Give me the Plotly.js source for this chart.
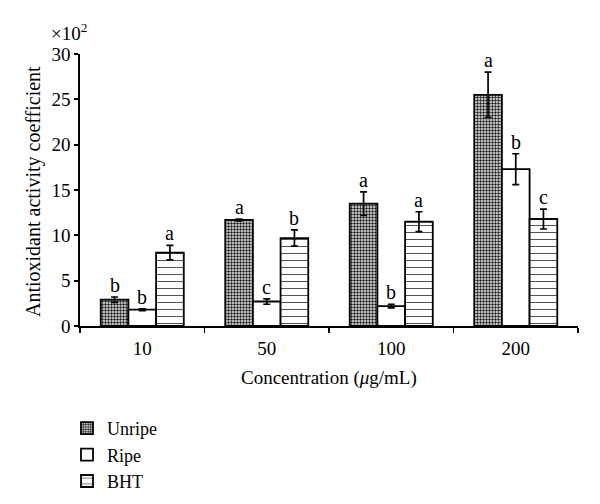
<!DOCTYPE html>
<html>
<head>
<meta charset="utf-8">
<script src="https://cdn.plot.ly/plotly-3.0.1.min.js"></script>
<style>html,body{margin:0;padding:0;background:#fff;}#chart{width:600px;height:504px;}</style>
</head>
<body>
<div id="chart"></div>
<script>
const categories = ["10", "50", "100", "200"];
const seriesNames = ["Unripe", "Ripe", "BHT"];
const unripe = [2.9, 11.7, 13.5, 25.5];
const unripeErr = [0.3, 0.1, 1.3, 2.5];
const ripe = [1.8, 2.7, 2.2, 17.3];
const ripeErr = [0.1, 0.3, 0.2, 1.7];
const bht = [8.1, 9.7, 11.5, 11.8];
const bhtErr = [0.8, 0.9, 1.1, 1.1];
const unripeLetters = ["b", "a", "a", "a"];
const ripeLetters = ["b", "c", "b", "b"];
const bhtLetters = ["a", "b", "a", "c"];
const xTitle = "Concentration (<i>μ</i>g/mL)";
const yTitle = "Antioxidant activity coefficient";

const FONT = "Liberation Serif, Times New Roman, serif";
const values = [unripe, ripe, bht];
const errs = [unripeErr, ripeErr, bhtErr];
const letters = [unripeLetters, ripeLetters, bhtLetters];
const patterns = [
  {shape: ".", size: 3, solidity: 0.5, fgcolor: "#1a1a1a", bgcolor: "#eeeeee"},
  {shape: "", bgcolor: "#ffffff"},
  {shape: "-", size: 7, solidity: 0.13, fgcolor: "#000000", fgopacity: 0.75, bgcolor: "#ffffff"}
];

const bargap = 0.333;
const barW = (1 - bargap) / 3;

const traces = seriesNames.map((name, s) => ({
  type: "bar",
  name: name,
  x: categories,
  y: values[s],
  marker: {color: "#ffffff", line: {color: "#000", width: 1.8}, pattern: patterns[s]},
  error_y: {type: "data", array: errs[s], visible: true, color: "#000", thickness: 1.7, width: 3.5}
}));

const annotations = [];
seriesNames.forEach((name, s) => {
  categories.forEach((c, i) => {
    annotations.push({
      x: i + (s - 1) * barW, y: values[s][i] + errs[s][i],
      xref: "x", yref: "y", text: letters[s][i], showarrow: false,
      yanchor: "bottom", yshift: -1,
      font: {family: FONT, size: 20, color: "#000"}
    });
  });
});
annotations.push({
  x: 0, y: 1, xref: "paper", yref: "paper", xanchor: "right", yanchor: "bottom",
  xshift: 9, yshift: 8,
  text: "×10<sup>2</sup>", showarrow: false, font: {family: FONT, size: 19, color: "#000"}
});
annotations.push({
  x: 0.5, y: 0, xref: "paper", yref: "paper", xanchor: "center", yanchor: "middle",
  yshift: -52, text: xTitle, showarrow: false, font: {family: FONT, size: 19, color: "#000"}
});
annotations.push({
  x: 0, y: 0.5, xref: "paper", yref: "paper", xanchor: "center", yanchor: "middle",
  xshift: -47, yshift: -2, textangle: -90, text: yTitle, showarrow: false,
  font: {family: FONT, size: 20, color: "#000"}
});

const layout = {
  width: 600, height: 504,
  margin: {l: 80, r: 22, t: 54, b: 178, autoexpand: false},
  paper_bgcolor: "#fff", plot_bgcolor: "#fff",
  barmode: "group", bargap: bargap, bargroupgap: 0,
  font: {family: FONT, size: 19, color: "#000"},
  showlegend: true,
  legend: {x: 67 / 600, y: 1 - 410 / 504, xref: "container", yref: "container",
    xanchor: "left", yanchor: "top", orientation: "v",
    font: {family: FONT, size: 18, color: "#000"}, tracegroupgap: 0, bgcolor: "rgba(0,0,0,0)"},
  xaxis: {
    type: "category", tickson: "boundaries", ticks: "outside", ticklen: 5, tickwidth: 1.8, tickcolor: "#000",
    showline: true, linecolor: "#000", linewidth: 1.8, showgrid: false, zeroline: false, automargin: false,
    tickfont: {family: FONT, size: 19}, ticklabelstandoff: 4
  },
  yaxis: {
    range: [0, 30], dtick: 5, ticks: "outside", ticklen: 4, tickwidth: 1.8, tickcolor: "#000",
    showline: true, linecolor: "#000", linewidth: 1.8, showgrid: false, zeroline: false, automargin: false,
    tickfont: {family: FONT, size: 19}
  },
  annotations: annotations
};

Plotly.newPlot("chart", traces, layout, {displayModeBar: false, staticPlot: true});
</script>
</body>
</html>
